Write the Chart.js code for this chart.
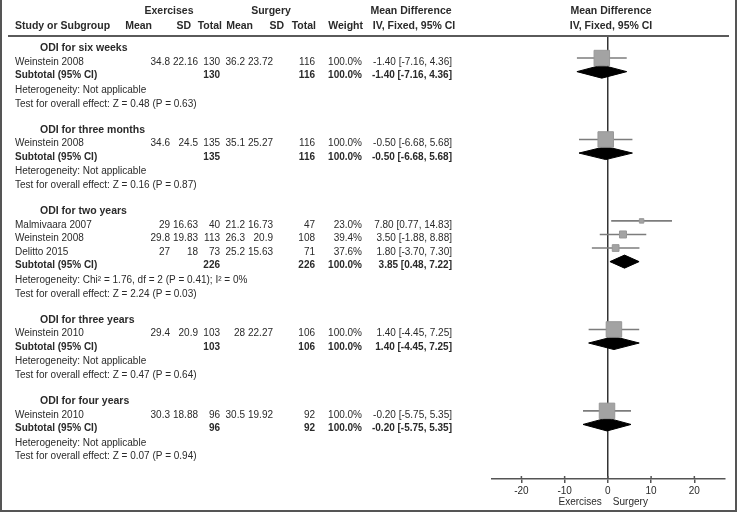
<!DOCTYPE html>
<html>
<head>
<meta charset="utf-8">
<script src="https://cdn.jsdelivr.net/npm/chart.js@4/dist/chart.umd.min.js"></script>
<style>
  html,body{margin:0;padding:0;background:#fff;}
  #wrap{position:relative;width:737px;height:512px;}
  #frame{position:absolute;left:0;top:0;width:737px;height:512px;box-sizing:border-box;
         border-left:2px solid #555;border-right:2px solid #555;border-bottom:2px solid #555;pointer-events:none;}
</style>
</head>
<body>
<div id="wrap">
  <canvas id="c" width="737" height="512"></canvas>
  <div id="frame"></div>
</div>
<script>
// ---------------- data ----------------
const groups = ['ODI for six weeks','ODI for three months','ODI for two years','ODI for three years','ODI for four years'];
const studyNames = ['Weinstein 2008','Weinstein 2008','Malmivaara 2007','Weinstein 2008','Delitto 2015','Weinstein 2010','Weinstein 2010'];
const studyGroup = [0,1,2,2,2,3,4];
const exMean  = ['34.8','34.6','29','29.8','27','29.4','30.3'];
const exSD    = ['22.16','24.5','16.63','19.83','18','20.9','18.88'];
const exTotal = [130,135,40,113,73,103,96];
const suMean  = ['36.2','35.1','21.2','26.3','25.2','28','30.5'];
const suSD    = ['23.72','25.27','16.73','20.9','15.63','22.27','19.92'];
const suTotal = [116,116,47,108,71,106,92];
const weights = [100,100,23.0,39.4,37.6,100,100];
const md = [-1.40,-0.50,7.80,3.50,1.80,1.40,-0.20];
const lo = [-7.16,-6.68,0.77,-1.88,-3.70,-4.45,-5.75];
const hi = [4.36,5.68,14.83,8.88,7.30,7.25,5.35];
const subExTotal = [130,135,226,103,96];
const subSuTotal = [116,116,226,106,92];
const subMd = [-1.40,-0.50,3.85,1.40,-0.20];
const subLo = [-7.16,-6.68,0.48,-4.45,-5.75];
const subHi = [4.36,5.68,7.22,7.25,5.35];
const heterogeneity = [
  'Heterogeneity: Not applicable',
  'Heterogeneity: Not applicable',
  'Heterogeneity: Chi\u00B2 = 1.76, df = 2 (P = 0.41); I\u00B2 = 0%',
  'Heterogeneity: Not applicable',
  'Heterogeneity: Not applicable'
];
const overallTest = [
  'Test for overall effect: Z = 0.48 (P = 0.63)',
  'Test for overall effect: Z = 0.16 (P = 0.87)',
  'Test for overall effect: Z = 2.24 (P = 0.03)',
  'Test for overall effect: Z = 0.47 (P = 0.64)',
  'Test for overall effect: Z = 0.07 (P = 0.94)'
];
const tickValues = [-20,-10,0,10,20];
const favourLabels = ['Exercises','Surgery'];

// ---------------- row layout (line index per row) ----------------
const studyRow = [], headRow = [], subRow = [], hetRow = [], testRow = [];
(function(){
  let line = 0;
  groups.forEach((g, gi) => {
    headRow[gi] = line++;
    studyGroup.forEach((sg, si) => { if (sg === gi) studyRow[si] = line++; });
    subRow[gi] = line++;
    hetRow[gi] = line++;
    testRow[gi] = line++;
    line++; // blank
  });
})();

const fmt = v => v.toFixed(2);
const ciText = (m,l,h) => fmt(m) + ' [' + fmt(l) + ', ' + fmt(h) + ']';

// ---------------- datasets ----------------
const DH = 0.48; // diamond half height (row units)
const datasets = [];
datasets.push({
  type:'scatter', label:'studies', order:0,
  data: md.map((v,i)=>({x:v, y:studyRow[i]})),
  pointStyle:'rect',
  pointRadius: weights.map(w => 15.5*Math.pow(w/100,0.85)/Math.SQRT2),
  backgroundColor:'#a3a3a3', borderColor:'#989898', borderWidth:1
});
md.forEach((v,i)=>{
  datasets.push({
    type:'line', label:'ci'+i, order:1,
    data:[{x:lo[i],y:studyRow[i]},{x:hi[i],y:studyRow[i]}],
    borderColor:'#7c7c7c', borderWidth:1.6, pointRadius:0, fill:false, tension:0
  });
});
subMd.forEach((v,gi)=>{
  const r = subRow[gi];
  datasets.push({
    type:'line', label:'dU'+gi, order:2,
    data:[{x:subLo[gi],y:r},{x:v,y:r-DH},{x:subHi[gi],y:r}],
    borderColor:'#000', borderWidth:1, pointRadius:0, fill:false, tension:0
  });
  datasets.push({
    type:'line', label:'dL'+gi, order:2,
    data:[{x:subLo[gi],y:r},{x:v,y:r+DH},{x:subHi[gi],y:r}],
    borderColor:'#000', borderWidth:1, pointRadius:0, fill:'-1', backgroundColor:'#000', tension:0
  });
});

// ---------------- text plugin ----------------
const FONT = '"Liberation Sans", Arial, Helvetica, sans-serif';
const tablePlugin = {
  id:'table',
  afterDraw(chart){
    const ctx = chart.ctx, ys = chart.scales.y, xs = chart.scales.x;
    const TY = r => ys.getPixelForValue(r) + 4;
    const T = (s, px, py, align, bold, size) => {
      ctx.font = (bold ? 'bold ' : '') + (size || 10) + 'px ' + FONT;
      ctx.textAlign = align; ctx.fillText(s, px, py);
    };
    ctx.save();
    ctx.fillStyle = '#2a2a2a';
    ctx.textBaseline = 'middle';
    T('Exercises', 169, 11, 'center', true, 10.5);
    T('Surgery', 271, 11, 'center', true, 10.5);
    T('Mean Difference', 411, 11, 'center', true, 10.5);
    T('Mean Difference', 611, 11, 'center', true, 10.5);
    T('Study or Subgroup', 15, 26, 'left', true, 10.5);
    T('Mean', 152, 26, 'right', true, 10.5);
    T('SD', 191, 26, 'right', true, 10.5);
    T('Total', 222, 26, 'right', true, 10.5);
    T('Mean', 253, 26, 'right', true, 10.5);
    T('SD', 284, 26, 'right', true, 10.5);
    T('Total', 316, 26, 'right', true, 10.5);
    T('Weight', 363, 26, 'right', true, 10.5);
    T('IV, Fixed, 95% CI', 414, 26, 'center', true, 10.5);
    T('IV, Fixed, 95% CI', 611, 26, 'center', true, 10.5);
    ctx.strokeStyle = '#5a5a5a'; ctx.lineWidth = 2;
    ctx.beginPath(); ctx.moveTo(8, 36); ctx.lineTo(729, 36); ctx.stroke();
    groups.forEach((g, gi) => {
      T(g, 40, TY(headRow[gi]), 'left', true, 10.5);
      T('Subtotal (95% CI)', 15, TY(subRow[gi]), 'left', true);
      T(String(subExTotal[gi]), 220, TY(subRow[gi]), 'right', true);
      T(String(subSuTotal[gi]), 315, TY(subRow[gi]), 'right', true);
      T('100.0%', 362, TY(subRow[gi]), 'right', true);
      T(ciText(subMd[gi], subLo[gi], subHi[gi]), 452, TY(subRow[gi]), 'right', true);
      T(heterogeneity[gi], 15, TY(hetRow[gi]) + 1, 'left', false);
      T(overallTest[gi], 15, TY(testRow[gi]) + 1, 'left', false);
    });
    studyNames.forEach((n, i) => {
      const py = TY(studyRow[i]);
      T(n, 15, py, 'left', false);
      T(exMean[i], 170, py, 'right', false);
      T(exSD[i], 198, py, 'right', false);
      T(String(exTotal[i]), 220, py, 'right', false);
      T(suMean[i], 245, py, 'right', false);
      T(suSD[i], 273, py, 'right', false);
      T(String(suTotal[i]), 315, py, 'right', false);
      T(weights[i].toFixed(1) + '%', 362, py, 'right', false);
      T(ciText(md[i], lo[i], hi[i]), 452, py, 'right', false);
    });
    const ab = xs.top;
    ctx.strokeStyle = '#555'; ctx.lineWidth = 1.5;
    tickValues.forEach(v => {
      const px = xs.getPixelForValue(v);
      ctx.beginPath(); ctx.moveTo(px, ab - 3); ctx.lineTo(px, ab); ctx.stroke();
    });
    const x0 = xs.getPixelForValue(0);
    T(favourLabels[0], x0 - 6, 502, 'right', false);
    T(favourLabels[1], x0 + 5, 502, 'left', false);
    ctx.restore();
  }
};

new Chart(document.getElementById('c'), {
  type:'scatter',
  data:{ datasets },
  options:{
    responsive:false, animation:false, events:[],
    layout:{ padding:{ left:492, right:11, top:36, bottom:0 } },
    plugins:{ legend:{display:false}, tooltip:{enabled:false} },
    scales:{
      x:{
        type:'linear', min:-26.8, max:27.1,
        afterBuildTicks: s => { s.ticks = tickValues.map(v => ({value:v})); },
        afterFit: s => { s.height = 33; },
        ticks:{ color:'#2a2a2a', font:{ size:10, family:FONT }, padding:2, maxRotation:0 },
        grid:{
          color: c => (c.tick && c.tick.value === 0) ? '#333' : 'rgba(0,0,0,0)',
          lineWidth:1.5, drawTicks:true, tickLength:4, tickColor:'#555', tickWidth:1.5
        },
        border:{ display:true, color:'#555', width:1.5 }
      },
      y:{ type:'linear', display:false, reverse:true, min:-0.626, max:32.02 }
    }
  },
  plugins:[tablePlugin]
});
</script>
</body>
</html>
